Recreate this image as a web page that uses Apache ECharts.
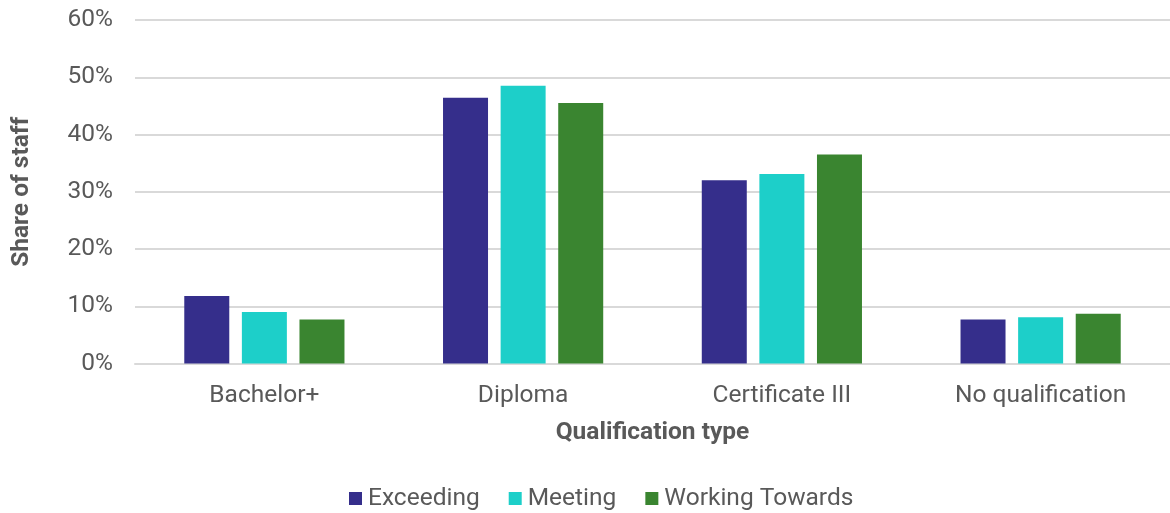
<!DOCTYPE html>
<html>
<head>
<meta charset="utf-8">
<script src="https://cdn.jsdelivr.net/npm/echarts@6/dist/echarts.min.js"></script>
<style>
  html, body { margin: 0; padding: 0; background: #fff; }
  #chart { width: 1170px; height: 513px; }
</style>
</head>
<body>
<div id="chart"></div>
<script>
// Share of staff by qualification type, split by rating
const categories = ['Bachelor+', 'Diploma', 'Certificate III', 'No qualification'];
const exceeding = [11.8, 46.4, 32.0, 7.7];
const meeting = [9.0, 48.5, 33.1, 8.1];
const workingTowards = [7.7, 45.5, 36.5, 8.7];
const yTicks = [0, 10, 20, 30, 40, 50, 60];

const textColor = '#595959';
const font = 'Roboto';
const fs = 24.5;

const chart = echarts.init(document.getElementById('chart'), null, { renderer: 'canvas' });

function barSeries(name, data, color) {
  return {
    name: name,
    type: 'bar',
    data: data,
    barWidth: 45,
    barGap: '28%',
    itemStyle: { color: color },
    emphasis: { disabled: true }
  };
}

chart.setOption({
  animation: false,
  textStyle: { fontFamily: font },
  grid: {
    left: 135, right: 0, top: 20, bottom: 149.5,
    containLabel: false,
    outerBoundsMode: 'none'
  },
  legend: {
    top: 481,
    left: 344,
    itemWidth: 13,
    itemHeight: 13,
    itemGap: 29,
    icon: 'rect',
    textStyle: { fontSize: fs, color: textColor, fontFamily: font, padding: [0, 0, 0, 1] },
    data: ['Exceeding', 'Meeting', 'Working Towards']
  },
  xAxis: {
    type: 'category',
    data: categories,
    name: 'Qualification type',
    nameLocation: 'middle',
    nameGap: 57,
    nameTextStyle: { fontSize: fs, fontWeight: 'bold', color: textColor, fontFamily: font },
    axisLine: { show: true, lineStyle: { color: '#d9d9d9', width: 2 } },
    axisTick: { show: false },
    axisLabel: { fontSize: fs, color: textColor, margin: 20, fontFamily: font }
  },
  yAxis: {
    type: 'value',
    min: yTicks[0],
    max: yTicks[yTicks.length - 1],
    interval: 10,
    name: 'Share of staff',
    nameLocation: 'middle',
    nameGap: 101,
    nameRotate: 90,
    nameTextStyle: { fontSize: fs, fontWeight: 'bold', color: textColor, fontFamily: font },
    axisLine: { show: false },
    axisTick: { show: false },
    splitLine: { lineStyle: { color: '#d9d9d9', width: 2 } },
    axisLabel: {
      fontSize: fs,
      color: textColor,
      margin: 22,
      fontFamily: font,
      formatter: v => v + '%'
    }
  },
  series: [
    barSeries('Exceeding', exceeding, '#352E8B'),
    barSeries('Meeting', meeting, '#1DCFC9'),
    barSeries('Working Towards', workingTowards, '#3A8530')
  ]
});
</script>
</body>
</html>
